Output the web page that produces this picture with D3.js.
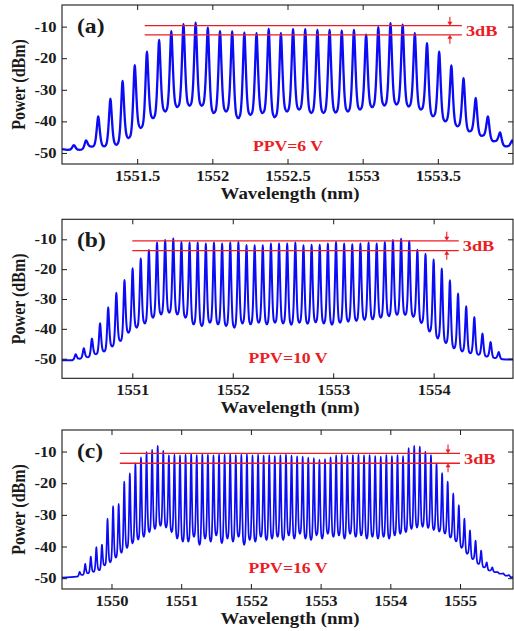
<!DOCTYPE html>
<html>
<head>
<meta charset="utf-8">
<script src="https://cdn.jsdelivr.net/npm/d3@7"></script>
<style>
  html, body { margin: 0; padding: 0; background: #fff; }
  svg { display: block; }
</style>
</head>
<body>
<svg id="chart" width="514" height="631"></svg>
<script>
// ── Data ────────────────────────────────────────────────────
// comb line peak powers (dBm), valley floor before each line (+1 after the last),
// first line wavelength / line spacing (nm), trace level at the left/right plot edges
var powerTicks = [-50, -40, -30, -20, -10];

var ticksA = [1551.5, 1552, 1552.5, 1553, 1553.5];
var startA = 1551.079, stepA = 0.081;
var edgesA = [-48.8, -48.6];
var peaksA = [-47.5, -46, -38.4, -32.8, -27.2, -22.2, -17.9, -14.2, -11.4, -9.2,
  -8.7, -10.3, -11.4, -11.5, -11.9, -12.1, -10.7, -12.1, -10.8, -10.8,
  -11, -11, -11.3, -11, -12.5, -10.2, -8.9, -9.4, -12.1, -15.2,
  -17.9, -22.3, -26.3, -32.6, -38.4, -43.5, -46];
var valleysA = [-49, -49, -48, -47.9, -47.4, -45.3, -42.1, -39, -36.9, -35.5,
  -35.1, -35.1, -37.4, -36.9, -39, -38, -37.4, -38.7, -36.9, -36.3,
  -37.4, -37.4, -37.2, -36.9, -36.3, -35.5, -35, -34.7, -35.3, -36.3,
  -38.4, -40, -41.6, -43.2, -44.6, -46.3, -47.9, -48.5];
var flatA = [-9.7, -12.6], flatSpanA = [1551.55, 1553.66];

var ticksB = [1551, 1552, 1553, 1554];
var startB = 1550.436, stepB = 0.081;
var edgesB = [-50.5, -50.3];
var peaksB = [-48.5, -46.5, -43.2, -38.1, -32.8, -27.9, -23.6, -19.7, -16.4, -13.6,
  -11.1, -10.2, -9.7, -10.9, -11.1, -11.1, -11.4, -11.1, -11.4, -11.1,
  -10.9, -11.9, -12.0, -12.0, -11.4, -11.4, -11.4, -11.1, -12.0, -11.8,
  -11.8, -11.4, -10.9, -11.4, -11.7, -11.4, -11.1, -11.4, -10.9, -10.2,
  -9.8, -10.6, -13.5, -14.8, -16.8, -19.8, -23.7, -28.2, -32.4, -36.0,
  -41.6, -44.4, -47.8];
var valleysB = [-50.5, -50, -49.5, -48.5, -47.6, -45.9, -44.1, -41.3, -39.6, -38.2,
  -36.3, -35.2, -34.6, -35.2, -36.3, -38.5, -39.1, -38, -38.5, -39.1,
  -39.6, -38.2, -38.5, -38, -38.5, -38, -38.2, -38.6, -38, -38.3,
  -37.8, -38.2, -38.6, -38, -37.6, -37.4, -37, -36.8, -36.3, -35.8,
  -35.4, -35.4, -36, -38.1, -40.9, -43.2, -44.8, -46.5, -47.6, -48.2,
  -48.7, -49.3, -49.8, -50.2];
var flatB = [-10.5, -13.8], flatSpanB = [1551.0, 1554.25];

var ticksC = [1550, 1551, 1552, 1553, 1554, 1555];
var startC = 1549.543, stepC = 0.080;
var edgesC = [-49.8, -49.6];
var peaksC = [-48, -45.5, -43.2, -40.2, -39.4, -31.2, -27.2, -26.5, -19.5, -16.9,
  -13.7, -11.8, -10.2, -9.5, -8.2, -9.8, -11.2,
  -11.0, -11.2, -11.0, -10.8, -11.1, -10.9, -11.0, -11.2, -10.9, -11.0,
  -10.8, -11.1, -11.0, -10.9, -11.2, -11.0, -11.3, -11.1, -11.4, -11.2,
  -11.0, -11.3, -11.5, -11.6, -11.9, -12.1, -12.6, -12.4, -11.8, -11.2,
  -11.0, -11.3, -11.1, -11.0, -11.2, -11.1, -11.4,
  -11.6, -11.1, -11.4, -11.1, -11.4, -8.9, -8.2, -8.4, -10.0, -11.1,
  -13.7, -16.8, -19.5, -23.2, -26.9, -31.2, -34.9, -38.1, -41.3, -45.0,
  -46.6, -48.1, -48.5, -49.0];
var valleysC = [-49.5, -49, -48.5, -48, -47.5, -46, -45, -43.5, -42, -40.5,
  -39, -37.8, -37, -35.5, -34.5, -33.5, -34, -35.5, -37.5, -38.5,
  -38.5, -37, -39.5, -37.5, -38.5, -36.5, -39, -37.5, -38.5, -37,
  -39.5, -38, -38.5, -37, -38, -37.5,
  -37, -38, -36.5, -37.5, -36, -37.5, -38, -36.5, -37.5, -36,
  -37, -36.5, -37.5, -36, -37, -36.5, -37.5, -37,
  -37.5, -37, -37.5, -36.5, -36, -35.5, -34.5, -34, -33.8, -34.2,
  -34.8, -35.3, -35.9, -37.2, -38.4, -40.4, -42.3, -44, -45.5, -46.6,
  -47.6, -48.1, -48.6, -49.2, -49.7];
var flatC = [-10.6, -13.7], flatSpanC = [1550.12, 1555.0];

// ── Layout / style ──────────────────────────────────────────
var FONT = '"Liberation Serif","Times New Roman",serif';
var SX = 1.18;          // source lettering is stretched horizontally
var BLUE = "#0b0bf5", RED = "#ec1c24", INK = "#1a1a1a";
var L = 62, R = 513, H = 159;

var panels = [
  { label: "(a)", ppv: "PPV=6 V", top: 5, xDomain: [1551.0, 1554.0], yDomain: [-53.5, -3.15],
    ticks: ticksA, start: startA, step: stepA, peaks: peaksA, valleys: valleysA, edges: edgesA,
    flat: flatA, flatSpan: flatSpanA, lw: 2.3, ppvDy: 13 },
  { label: "(b)", ppv: "PPV=10 V", top: 219.3, xDomain: [1550.3, 1554.79], yDomain: [-56.57, -3.3],
    ticks: ticksB, start: startB, step: stepB, peaks: peaksB, valleys: valleysB, edges: edgesB,
    flat: flatB, flatSpan: flatSpanB, lw: 2.0, ppvDy: 15 },
  { label: "(c)", ppv: "PPV=16 V", top: 430, xDomain: [1549.29, 1555.76], yDomain: [-53.42, -3.19],
    ticks: ticksC, start: startC, step: stepC, peaks: peaksC, valleys: valleysC, edges: edgesC,
    flat: flatC, flatSpan: flatSpanC, lw: 1.7, ppvDy: 16.5 }
];

// single comb line profile: [offset in line spacings, fraction of valley→peak rise]
var lineShape = [[-0.36, 0.03], [-0.27, 0.12], [-0.2, 0.28], [-0.14, 0.5], [-0.08, 0.76],
  [-0.03, 0.95], [0, 1], [0.03, 0.95], [0.08, 0.76], [0.14, 0.5], [0.2, 0.28],
  [0.27, 0.12], [0.36, 0.03]];

var svg = d3.select("#chart");
svg.append("rect").attr("width", 514).attr("height", 631).attr("fill", "#fff");

function label(x0, y0, str, size, color, anchor, vertical) {
  return svg.append("text")
    .attr("transform", "translate(" + x0 + "," + y0 + ") scale(" + SX + ",1)" + (vertical ? " rotate(-90)" : ""))
    .attr("text-anchor", anchor)
    .attr("font-family", FONT)
    .attr("font-weight", "bold")
    .attr("font-size", size)
    .attr("fill", color)
    .text(str);
}

function fmt(d) { return String(d); }

panels.forEach(function (p, k) {
  var bottom = p.top + H;
  var x = d3.scaleLinear().domain(p.xDomain).range([L, R]);
  var y = d3.scaleLinear().domain(p.yDomain).range([bottom, p.top]);

  svg.append("clipPath").attr("id", "clip" + k)
    .append("rect").attr("x", L).attr("y", p.top).attr("width", R - L).attr("height", H);

  // ── Spectrum trace ──────────────────────────────────────
  var n = p.peaks.length;
  var first = p.start - p.step / 2;
  var last = p.start + (n - 1) * p.step + p.step / 2;
  var pts = [];
  if (p.xDomain[0] < first) pts.push([p.xDomain[0], p.edges[0]]);
  p.peaks.forEach(function (pk, i) {
    var c = p.start + i * p.step;
    var vl = p.valleys[i], vr = p.valleys[i + 1];
    pts.push([c - p.step / 2, vl]);
    lineShape.forEach(function (s) {
      var base = s[0] < 0 ? vl : vr;
      pts.push([c + s[0] * p.step, base + s[1] * (pk - base)]);
    });
  });
  pts.push([last, p.valleys[n]]);
  if (p.xDomain[1] > last) pts.push([p.xDomain[1], p.edges[1]]);

  var line = d3.line()
    .x(function (d) { return x(d[0]); })
    .y(function (d) { return y(d[1]); })
    .curve(d3.curveMonotoneX);

  svg.append("path")
    .datum(pts)
    .attr("clip-path", "url(#clip" + k + ")")
    .attr("fill", "none")
    .attr("stroke", BLUE)
    .attr("stroke-width", p.lw)
    .attr("stroke-linejoin", "round")
    .attr("d", line);

  // ── Axes: MATLAB-style box, inward ticks on all sides ───
  var gB = svg.append("g").attr("transform", "translate(0," + bottom + ")")
    .call(d3.axisBottom(x).tickValues(p.ticks).tickSizeInner(-5).tickSizeOuter(0).tickPadding(7).tickFormat(fmt));
  var gT = svg.append("g").attr("transform", "translate(0," + p.top + ")")
    .call(d3.axisTop(x).tickValues(p.ticks).tickSizeInner(-5).tickSizeOuter(0).tickFormat(""));
  var gL = svg.append("g").attr("transform", "translate(" + L + ",0)")
    .call(d3.axisLeft(y).tickValues(powerTicks).tickSizeInner(-5).tickSizeOuter(0).tickPadding(4.7).tickFormat(fmt));
  var gR = svg.append("g").attr("transform", "translate(" + R + ",0)")
    .call(d3.axisRight(y).tickValues(powerTicks).tickSizeInner(-5).tickSizeOuter(0).tickFormat(""));

  [gB, gT, gL, gR].forEach(function (g) {
    g.select(".domain").remove();
    g.selectAll(".tick line").attr("stroke", INK).attr("stroke-width", 1);
    g.attr("font-family", FONT);
  });
  [gB, gL].forEach(function (g) {
    g.selectAll(".tick text")
      .attr("font-size", 14)
      .attr("font-weight", "bold")
      .attr("fill", INK)
      .attr("transform", "scale(" + SX + ",1)");
  });

  svg.append("rect")
    .attr("x", L).attr("y", p.top).attr("width", R - L).attr("height", H)
    .attr("fill", "none").attr("stroke", INK).attr("stroke-width", 1.1);

  // ── 3 dB flatness markers ───────────────────────────────
  var x0 = x(p.flatSpan[0]), x1 = x(p.flatSpan[1]);
  var yHi = y(p.flat[0]), yLo = y(p.flat[1]);
  p.flat.forEach(function (v) {
    svg.append("line")
      .attr("x1", x0).attr("x2", x1).attr("y1", y(v)).attr("y2", y(v))
      .attr("stroke", RED).attr("stroke-width", 1.3);
  });
  var ax = x1 - 12;
  svg.append("line").attr("x1", ax).attr("x2", ax).attr("y1", yHi - 9).attr("y2", yHi - 3)
    .attr("stroke", RED).attr("stroke-width", 1.1);
  svg.append("path").attr("d", "M" + (ax - 2.5) + "," + (yHi - 4) + "L" + (ax + 2.5) + "," + (yHi - 4) + "L" + ax + "," + yHi + "Z")
    .attr("fill", RED);
  svg.append("line").attr("x1", ax).attr("x2", ax).attr("y1", yLo + 3).attr("y2", yLo + 9)
    .attr("stroke", RED).attr("stroke-width", 1.1);
  svg.append("path").attr("d", "M" + (ax - 2.5) + "," + (yLo + 4) + "L" + (ax + 2.5) + "," + (yLo + 4) + "L" + ax + "," + yLo + "Z")
    .attr("fill", RED);
  label(x1 + 4, (yHi + yLo) / 2 + 5.5, "3dB", 15.5, RED, "start");

  // ── Text ─────────────────────────────────────────────────
  label(77, p.top + 28, p.label, 20, INK, "start");
  label(288, bottom - p.ppvDy, p.ppv, 15, RED, "middle");
  label(290, bottom + 34.5, "Wavelength (nm)", 16, INK, "middle");
  label(25, p.top + H / 2, "Power (dBm)", 16, INK, "middle", true);
});
</script>
</body>
</html>
